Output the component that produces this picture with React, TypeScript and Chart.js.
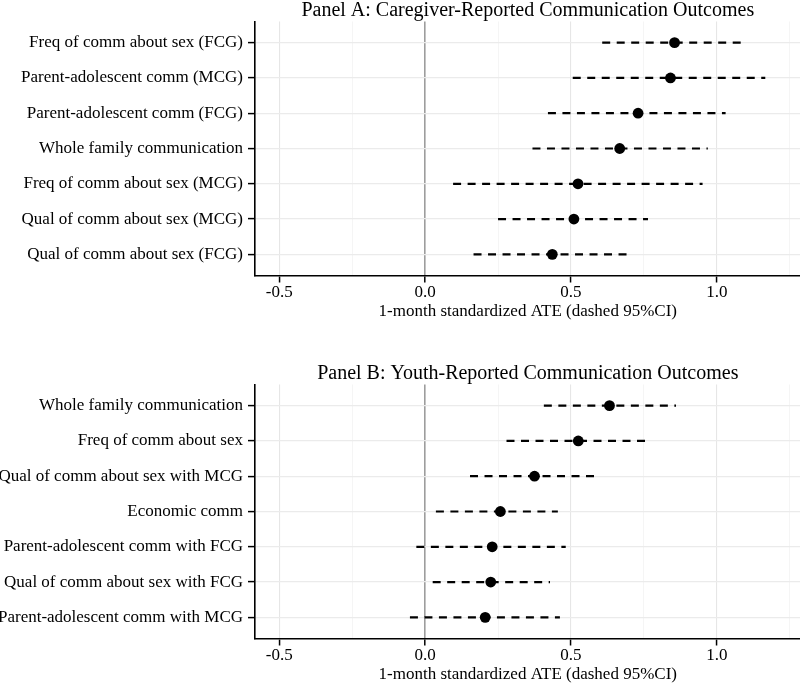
import React, { useEffect, useRef } from "react";
import { Chart, registerables } from "chart.js";

Chart.register(...registerables);

const FONT = '"Liberation Serif", "Times New Roman", serif';

const titleA = "Panel A: Caregiver-Reported Communication Outcomes";
const labelsA = [
  "Freq of comm about sex (FCG)",
  "Parent-adolescent comm (MCG)",
  "Parent-adolescent comm (FCG)",
  "Whole family communication",
  "Freq of comm about sex (MCG)",
  "Qual of comm about sex (MCG)",
  "Qual of comm about sex (FCG)",
];
const estA = [0.855, 0.841, 0.73, 0.667, 0.524, 0.51, 0.436];
const lowA = [0.607, 0.506, 0.421, 0.368, 0.096, 0.25, 0.166];
const highA = [1.101, 1.166, 1.03, 0.969, 0.951, 0.764, 0.712];

const titleB = "Panel B: Youth-Reported Communication Outcomes";
const labelsB = [
  "Whole family communication",
  "Freq of comm about sex",
  "Qual of comm about sex with MCG",
  "Economic comm",
  "Parent-adolescent comm with FCG",
  "Qual of comm about sex with FCG",
  "Parent-adolescent comm with MCG",
];
const estB = [0.632, 0.525, 0.375, 0.258, 0.23, 0.225, 0.206];
const lowB = [0.407, 0.279, 0.154, 0.037, -0.03, 0.026, -0.052];
const highB = [0.86, 0.773, 0.599, 0.455, 0.482, 0.428, 0.462];

const xMajorTicks = [-0.5, 0, 0.5, 1.0];
const xMinorTicks = [-0.25, 0.25, 0.75, 1.25];
const xTitle = "1-month standardized ATE (dashed 95%CI)";

const CANVAS_W = 806;

type PanelProps = {
  title: string;
  labels: string[];
  est: number[];
  low: number[];
  high: number[];
  top: number;
};

const panelTitlePlugin = {
  id: "panelTitle",
  afterDraw(chart: any, _args: any, opts: any) {
    const { ctx, chartArea } = chart;
    ctx.save();
    ctx.fillStyle = "#000";
    ctx.font = `20px ${FONT}`;
    ctx.textAlign = "center";
    ctx.textBaseline = "middle";
    ctx.fillText(opts.text, (chartArea.left + chartArea.right) / 2, 11);
    ctx.restore();
  },
};

function Panel({ title, labels, est, low, high, top }: PanelProps) {
  const ref = useRef<HTMLCanvasElement>(null);
  useEffect(() => {
    if (!ref.current) return;
    const isMajor = (v: number) => xMajorTicks.some((m) => Math.abs(m - v) < 1e-9);
    const ciSets = labels.map((_, i) => ({
      data: [
        { x: low[i], y: i + 1 },
        { x: high[i], y: i + 1 },
      ],
      showLine: true,
      borderColor: "#000",
      borderWidth: 2.2,
      borderDash: [8, 6.5],
      pointRadius: 0,
      fill: false,
      order: 2,
    }));
    const pointSet = {
      data: est.map((v, i) => ({ x: v, y: i + 1 })),
      pointRadius: 5.4,
      pointHoverRadius: 5.4,
      backgroundColor: "#000",
      borderColor: "#000",
      borderWidth: 0,
      order: 1,
    };
    const chart = new Chart(ref.current, {
      type: "scatter",
      data: { datasets: [...ciSets, pointSet] as any },
      plugins: [panelTitlePlugin],
      options: {
        animation: false,
        responsive: false,
        maintainAspectRatio: false,
        layout: { padding: { top: 21.5, left: 0, right: 0, bottom: 0 } },
        plugins: {
          legend: { display: false },
          tooltip: { enabled: false },
          title: { display: false },
          panelTitle: { text: title },
        },
        scales: {
          x: {
            type: "linear",
            min: -0.583,
            max: 1.287,
            afterBuildTicks: (s: any) => {
              s.ticks = [...xMajorTicks, ...xMinorTicks]
                .sort((a, b) => a - b)
                .map((v) => ({ value: v }));
            },
            afterFit: (s: any) => {
              s.height = 44.5;
            },
            ticks: {
              autoSkip: false,
              maxRotation: 0,
              padding: 0,
              color: "#000",
              font: { family: FONT, size: 17 },
              callback: (v: any) => (isMajor(Number(v)) ? Number(v).toFixed(1) : ""),
            },
            grid: {
              color: (ctx: any) => {
                const v = ctx.tick ? ctx.tick.value : 1;
                if (Math.abs(v) < 1e-9) return "#9d9d9d";
                return isMajor(v) ? "#e6e6e6" : "#f2f2f2";
              },
              lineWidth: (ctx: any) => {
                const v = ctx.tick ? ctx.tick.value : 1;
                if (Math.abs(v) < 1e-9) return 1.6;
                return isMajor(v) ? 1.1 : 0.8;
              },
              tickColor: (ctx: any) => {
                const v = ctx.tick ? ctx.tick.value : 1;
                return isMajor(v) ? "#000" : "rgba(0,0,0,0)";
              },
              tickLength: 7,
              tickWidth: 1.5,
            },
            border: { display: true, color: "#000", width: 1.6 },
            title: {
              display: true,
              text: xTitle,
              color: "#000",
              font: { family: FONT, size: 17, lineHeight: 1.2 },
              padding: { top: 0, bottom: -2 },
            },
          },
          y: {
            type: "linear",
            reverse: true,
            min: 0.4,
            max: 7.6,
            afterBuildTicks: (s: any) => {
              s.ticks = labels.map((_, i) => ({ value: i + 1 }));
            },
            afterFit: (s: any) => {
              s.width = 255;
            },
            ticks: {
              autoSkip: false,
              padding: 5,
              color: "#000",
              font: { family: FONT, size: 17 },
              callback: (v: any) => labels[Math.round(Number(v)) - 1] ?? "",
            },
            grid: {
              color: "#ebebeb",
              lineWidth: 1.2,
              tickColor: "#000",
              tickLength: 7,
              tickWidth: 1.5,
            },
            border: { display: true, color: "#000", width: 1.6 },
          },
        },
      } as any,
    });
    return () => chart.destroy();
  }, []);
  return (
    <canvas
      ref={ref}
      width={CANVAS_W}
      height={320}
      style={{ position: "absolute", left: 0, top, width: CANVAS_W, height: 320 }}
    />
  );
}

export default function App() {
  return (
    <div
      style={{
        position: "absolute",
        left: 0,
        top: 0,
        width: 800,
        height: 683,
        background: "#fff",
        overflow: "hidden",
      }}
    >
      <Panel title={titleA} labels={labelsA} est={estA} low={lowA} high={highA} top={0} />
      <Panel title={titleB} labels={labelsB} est={estB} low={lowB} high={highB} top={363} />
    </div>
  );
}
